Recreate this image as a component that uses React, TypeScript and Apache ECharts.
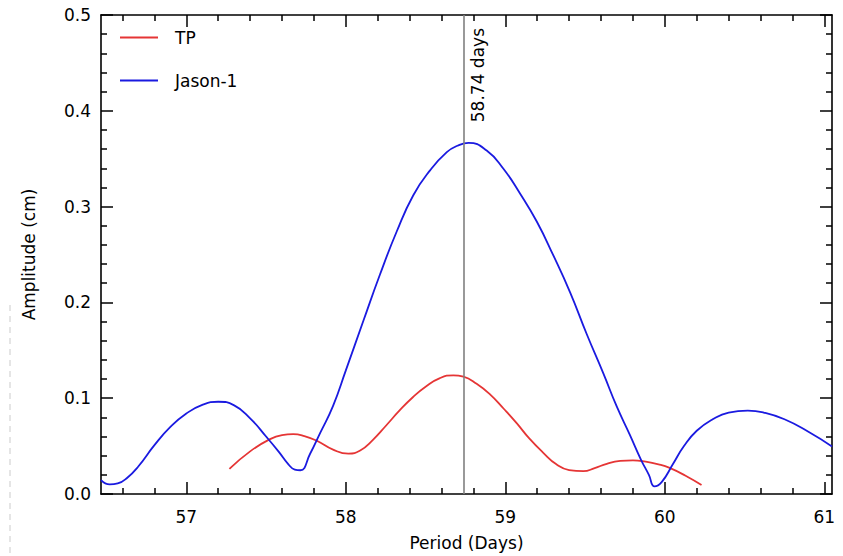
import React, { useEffect, useRef } from "react";
import * as echarts from "echarts";

const X_MIN = 56.465;
const X_MAX = 61.048;
const majorXTicks = [57, 58, 59, 60, 61];
const minorXTicks = [
  56.6, 56.8, 57.2, 57.4, 57.6, 57.8, 58.2, 58.4, 58.6, 58.8,
  59.2, 59.4, 59.6, 59.8, 60.2, 60.4, 60.6, 60.8,
];

const jasonPeriod = [
  56.465, 56.52, 56.57, 56.63, 56.7, 56.8, 56.9, 57.0, 57.1, 57.2, 57.3, 57.4,
  57.5, 57.58, 57.64, 57.68, 57.715, 57.776, 57.84, 57.92, 58.0, 58.11, 58.214,
  58.319, 58.423, 58.528, 58.633, 58.7, 58.77, 58.883, 58.988, 59.092, 59.197,
  59.301, 59.406, 59.51, 59.615, 59.699, 59.78, 59.85, 59.9, 59.935, 59.98,
  60.05, 60.12, 60.2, 60.3, 60.4, 60.52, 60.62, 60.75, 60.9, 61.048,
];
const jasonAmp = [
  0.0145, 0.01, 0.011, 0.017, 0.029, 0.051, 0.07, 0.084, 0.093, 0.0963, 0.0925,
  0.079, 0.06, 0.044, 0.031, 0.0255, 0.0248, 0.042, 0.064, 0.092, 0.129,
  0.1808, 0.2291, 0.274, 0.3119, 0.3378, 0.3568, 0.3635, 0.3665, 0.3585,
  0.3395, 0.3137, 0.2844, 0.249, 0.2105, 0.167, 0.1256, 0.0911, 0.062, 0.036,
  0.02, 0.008, 0.0124, 0.031, 0.05, 0.066, 0.078, 0.085, 0.087, 0.085, 0.078,
  0.065, 0.0497,
];

const tpPeriod = [
  57.27, 57.4, 57.525, 57.6, 57.67, 57.74, 57.818, 57.92, 58.016, 58.09, 58.17,
  58.25, 58.34, 58.42, 58.5, 58.59, 58.674, 58.737, 58.82, 58.904, 58.99,
  59.071, 59.15, 59.238, 59.32, 59.4, 59.489, 59.56, 59.636, 59.72, 59.8,
  59.88, 59.96, 60.03, 60.13, 60.23,
];
const tpAmp = [
  0.0262, 0.0445, 0.0573, 0.0615, 0.0625, 0.0605, 0.0556, 0.0463, 0.0421,
  0.0455, 0.0566, 0.071, 0.0877, 0.101, 0.112, 0.121, 0.1239, 0.1225, 0.115,
  0.104, 0.089, 0.074, 0.058, 0.043, 0.031, 0.025, 0.0238, 0.027, 0.0315,
  0.0345, 0.0352, 0.0338, 0.031, 0.0272, 0.019, 0.0093,
];

const markPeriod = 58.74;
const markLabel = "58.74 days";

const FONT = "DejaVu Sans";

export default function App() {
  const ref = useRef<HTMLDivElement>(null);
  useEffect(() => {
    document.body.style.margin = "0";
    if (!ref.current) return;
    const chart = echarts.init(ref.current, null, { renderer: "svg" });
    const axisLine = { show: true, lineStyle: { color: "#000", width: 1.6 } };
    const xBase = (pos: "bottom" | "top") => ({
      type: "value" as const,
      position: pos,
      min: X_MIN,
      max: X_MAX,
      splitLine: { show: false },
      axisLine,
    });
    chart.setOption({
      animation: false,
      backgroundColor: "#fff",
      textStyle: { fontFamily: FONT },
      grid: { left: 101, right: 11, top: 15, bottom: 58, containLabel: false },
      legend: {
        orient: "vertical",
        left: 115,
        top: 24,
        itemWidth: 38,
        itemHeight: 2,
        itemGap: 26,
        icon: "rect",
        textStyle: { fontSize: 17, fontFamily: FONT, color: "#000", padding: [0, 0, 0, 12] },
        data: ["TP", "Jason-1"],
      },
      xAxis: [
        {
          ...xBase("bottom"),
          name: "Period (Days)",
          nameLocation: "middle",
          nameGap: 40,
          nameTextStyle: { fontSize: 17, fontFamily: FONT, color: "#000" },
          axisTick: { show: true, inside: true, length: 12, customValues: majorXTicks, lineStyle: { color: "#000", width: 1.5 } },
          axisLabel: { show: true, customValues: majorXTicks, fontSize: 17, fontFamily: FONT, color: "#000", margin: 14 },
        },
        {
          ...xBase("bottom"),
          axisLine: { show: false },
          axisTick: { show: true, inside: true, length: 6, customValues: minorXTicks, lineStyle: { color: "#000", width: 1.5 } },
          axisLabel: { show: false },
        },
        {
          ...xBase("top"),
          axisTick: { show: true, inside: true, length: 12, customValues: majorXTicks, lineStyle: { color: "#000", width: 1.5 } },
          axisLabel: { show: false },
        },
        {
          ...xBase("top"),
          axisLine: { show: false },
          axisTick: { show: true, inside: true, length: 6, customValues: minorXTicks, lineStyle: { color: "#000", width: 1.5 } },
          axisLabel: { show: false },
        },
      ],
      yAxis: [
        {
          type: "value",
          position: "left",
          min: 0,
          max: 0.5,
          interval: 0.1,
          name: "Amplitude (cm)",
          nameLocation: "middle",
          nameGap: 64,
          nameTextStyle: { fontSize: 17, fontFamily: FONT, color: "#000" },
          splitLine: { show: false },
          axisLine,
          axisTick: { show: true, inside: true, length: 12, lineStyle: { color: "#000", width: 1.5 } },
          minorTick: { show: true, splitNumber: 5, length: 6, lineStyle: { color: "#000", width: 1.5 } },
          minorSplitLine: { show: false },
          axisLabel: {
            fontSize: 17,
            fontFamily: FONT,
            color: "#000",
            margin: 10,
            formatter: (v: number) => v.toFixed(1),
          },
        },
        {
          type: "value",
          position: "right",
          min: 0,
          max: 0.5,
          interval: 0.1,
          splitLine: { show: false },
          axisLine,
          axisTick: { show: true, inside: true, length: 12, lineStyle: { color: "#000", width: 1.5 } },
          minorTick: { show: true, splitNumber: 5, length: 6, lineStyle: { color: "#000", width: 1.5 } },
          minorSplitLine: { show: false },
          axisLabel: { show: false },
        },
      ],
      series: [
        {
          name: "TP",
          type: "line",
          xAxisIndex: 0,
          yAxisIndex: 0,
          data: tpPeriod.map((p, i) => [p, tpAmp[i]]),
          showSymbol: false,
          symbol: "none",
          smooth: 0.5,
          color: "#e53535",
          lineStyle: { color: "#e53535", width: 1.8 },
          z: 3,
        },
        {
          name: "Jason-1",
          type: "line",
          xAxisIndex: 0,
          yAxisIndex: 0,
          data: jasonPeriod.map((p, i) => [p, jasonAmp[i]]),
          showSymbol: false,
          symbol: "none",
          smooth: 0.5,
          color: "#1a1ae0",
          lineStyle: { color: "#1a1ae0", width: 1.8 },
          z: 4,
          markLine: {
            silent: true,
            symbol: "none",
            lineStyle: { color: "#808080", width: 1.6, type: "solid" },
            label: {
              show: true,
              position: "insideEndBottom",
              formatter: markLabel,
              fontSize: 17,
              fontFamily: FONT,
              color: "#000",
              distance: [13, 6],
            },
            data: [{ xAxis: markPeriod }],
          },
        },
      ],
      graphic: [
        {
          type: "line",
          shape: { x1: 10, y1: 305, x2: 10, y2: 556 },
          style: { stroke: "#dddddd", lineWidth: 1.5, lineDash: [6, 5] },
          silent: true,
        },
      ],
    });
    return () => chart.dispose();
  }, []);
  return <div ref={ref} style={{ width: 843, height: 556 }} />;
}
